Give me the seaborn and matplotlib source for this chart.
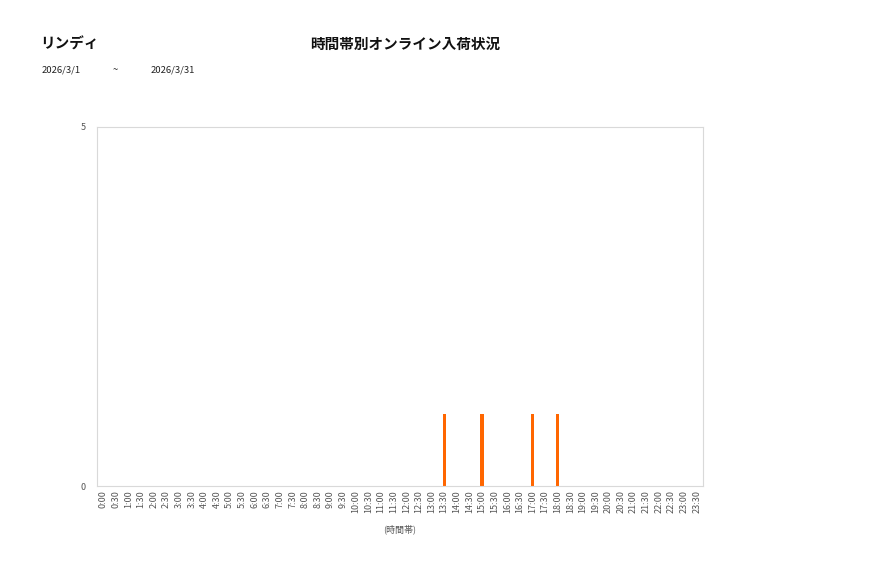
import matplotlib
matplotlib.use("Agg")
import matplotlib.pyplot as plt
import seaborn as sns
import pandas as pd

sns.set_theme(style="white")
plt.rcParams['font.family'] = ['Noto Sans CJK JP', 'DejaVu Sans']

time_slots = [f"{h}:{m:02d}" for h in range(24) for m in (0, 30)]
counts = [0] * 48
arrivals = {"13:30": 1, "15:00": 1, "17:00": 1, "18:00": 1}
for k, v in arrivals.items():
    counts[time_slots.index(k)] = v

df = pd.DataFrame({"slot": time_slots, "count": counts})

fig = plt.figure(figsize=(8.77, 5.78), dpi=100)
ax = fig.add_axes([97/877, 1-486/578, (703-97)/877, (486-127)/578])
sns.barplot(data=df, x="slot", y="count", order=time_slots, color="#FF6600",
            width=0.26, ax=ax, saturation=1, linewidth=0)
ax.set_ylim(0, 5)
ax.set_yticks([0, 5])
ax.set_xlim(-0.5, 47.5)
ax.tick_params(axis='x', labelrotation=90, labelsize=6.5, colors='#555555', length=0, pad=3)
ax.tick_params(axis='y', labelsize=6.5, colors='#555555', length=0, pad=8)
for s in ax.spines.values():
    s.set_color('#d9d9d9')
    s.set_linewidth(0.8)
ax.set_ylabel("")
ax.set_xlabel("(時間帯)", fontsize=6.5, color='#555555', labelpad=8)

fig.text(40/877, 1-44/578, "リンディ", fontsize=10.5, fontweight='bold', color='#111111', va='center', ha='left')
fig.text(405/877, 1-44/578, "時間帯別オンライン入荷状況", fontsize=10.5, fontweight='bold', color='#111111', va='center', ha='center')
fig.text(42/877, 1-70/578, "2026/3/1", fontsize=6.8, color='#222222', va='center', ha='left')
fig.text(113/877, 1-70/578, "~", fontsize=6.8, color='#222222', va='center', ha='left')
fig.text(151/877, 1-70/578, "2026/3/31", fontsize=6.8, color='#222222', va='center', ha='left')

fig.savefig("out.png", dpi=100)
